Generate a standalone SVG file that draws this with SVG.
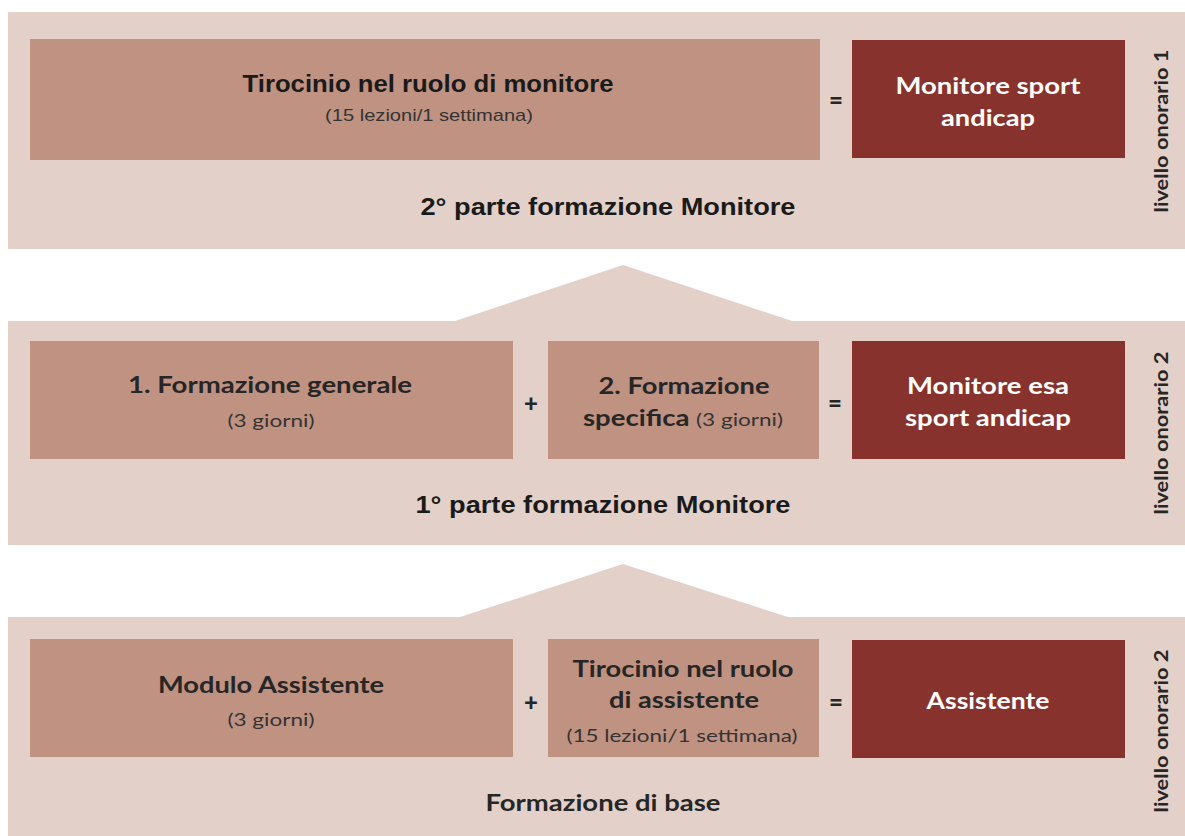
<svg xmlns="http://www.w3.org/2000/svg" width="1185" height="836" viewBox="0 0 1185 836">
<style>
.band{fill:#E3D1C9}
.light{fill:#C09282}
.dark{fill:#88322D}
.ab{font-family:"Liberation Sans",Arial,sans-serif;font-weight:bold;fill:#1a1a1a;text-anchor:middle}
.ar{font-family:"Liberation Sans",Arial,sans-serif;fill:#333;text-anchor:middle}
.cb{font-family:Lato,"Open Sans",sans-serif;font-weight:bold;fill:#262626;text-anchor:middle}
.cr{font-family:Lato,"Open Sans",sans-serif;font-weight:normal;fill:#333;text-anchor:middle}
.wb{font-family:Lato,"Open Sans",sans-serif;font-weight:bold;fill:#ffffff;text-anchor:middle}
.op{font-family:Lato,"Open Sans",sans-serif;font-weight:900;fill:#262626;text-anchor:middle;font-size:24px}
.vt{font-family:Lato,"Open Sans",sans-serif;font-weight:bold;fill:#262626;text-anchor:middle;font-size:19px}
</style>
<rect width="1185" height="836" fill="#ffffff"/>

<g id="band-top">
<rect class="band" x="8" y="12" width="1177" height="237"/>
<text class="ab" x="608" y="215" font-size="24" textLength="375" lengthAdjust="spacingAndGlyphs">2° parte formazione Monitore</text>
<text class="vt" transform="translate(1168,131) rotate(-90)" textLength="163" lengthAdjust="spacingAndGlyphs">livello onorario 1</text>
</g>
<g id="band-middle">
<polygon class="band" points="8,321 455,321 623,265 792,321 1185,321 1185,545 8,545"/>
<text class="ab" x="603" y="513" font-size="24" textLength="375" lengthAdjust="spacingAndGlyphs">1° parte formazione Monitore</text>
<text class="vt" transform="translate(1168,433) rotate(-90)" textLength="163" lengthAdjust="spacingAndGlyphs">livello onorario 2</text>
</g>
<g id="band-bottom">
<polygon class="band" points="8,617 460,617 623,564 788,617 1185,617 1185,836 8,836"/>
<text class="cb" x="603" y="811" font-size="22" textLength="235" lengthAdjust="spacingAndGlyphs">Formazione di base</text>
<text class="vt" transform="translate(1168,731) rotate(-90)" textLength="163" lengthAdjust="spacingAndGlyphs">livello onorario 2</text>
</g>

<g id="node-tirocinio-monitore">
<rect class="light" x="30" y="39" width="790" height="121"/>
<text class="ab" x="428" y="92" font-size="24" textLength="371" lengthAdjust="spacingAndGlyphs">Tirocinio nel ruolo di monitore</text>
<text class="ar" x="429" y="121" font-size="17" textLength="208" lengthAdjust="spacingAndGlyphs">(15 lezioni/1 settimana)</text>
</g>
<g id="node-monitore-sport-andicap">
<rect class="dark" x="852" y="40" width="273" height="118"/>
<text class="wb" x="988" y="94" font-size="23" textLength="185" lengthAdjust="spacingAndGlyphs">Monitore sport</text>
<text class="wb" x="988" y="126" font-size="23" textLength="94" lengthAdjust="spacingAndGlyphs">andicap</text>
</g>

<g id="node-formazione-generale">
<rect class="light" x="30" y="341" width="483" height="118"/>
<text class="cb" x="270" y="393" font-size="22" textLength="284" lengthAdjust="spacingAndGlyphs">1. Formazione generale</text>
<text class="cr" x="271" y="427" font-size="18" textLength="87" lengthAdjust="spacingAndGlyphs">(3 giorni)</text>
</g>
<g id="node-formazione-specifica">
<rect class="light" x="548" y="341" width="271" height="118"/>
<text class="cb" x="684" y="394" font-size="22" textLength="171" lengthAdjust="spacingAndGlyphs">2. Formazione</text>
<text class="cb" x="683" y="426" font-size="22" textLength="200" lengthAdjust="spacingAndGlyphs">specifica <tspan class="cr" font-size="18">(3 giorni)</tspan></text>
</g>
<g id="node-monitore-esa">
<rect class="dark" x="852" y="341" width="273" height="118"/>
<text class="wb" x="988" y="394" font-size="23" textLength="162" lengthAdjust="spacingAndGlyphs">Monitore esa</text>
<text class="wb" x="988" y="426" font-size="23" textLength="166" lengthAdjust="spacingAndGlyphs">sport andicap</text>
</g>

<g id="node-modulo-assistente">
<rect class="light" x="30" y="639" width="483" height="118"/>
<text class="cb" x="271" y="693" font-size="22" textLength="226" lengthAdjust="spacingAndGlyphs">Modulo Assistente</text>
<text class="cr" x="271" y="726" font-size="18" textLength="87" lengthAdjust="spacingAndGlyphs">(3 giorni)</text>
</g>
<g id="node-tirocinio-assistente">
<rect class="light" x="548" y="639" width="271" height="118"/>
<text class="cb" x="683" y="677" font-size="22" textLength="221" lengthAdjust="spacingAndGlyphs">Tirocinio nel ruolo</text>
<text class="cb" x="684" y="708" font-size="22" textLength="150" lengthAdjust="spacingAndGlyphs">di assistente</text>
<text class="cr" x="682" y="742" font-size="18" textLength="231" lengthAdjust="spacingAndGlyphs">(15 lezioni/1 settimana)</text>
</g>
<g id="node-assistente">
<rect class="dark" x="852" y="640" width="273" height="118"/>
<text class="wb" x="988" y="709" font-size="23" textLength="123" lengthAdjust="spacingAndGlyphs">Assistente</text>
</g>

<g id="connectors">
<text class="op" x="836" y="109">=</text>
<text class="op" x="531" y="412">+</text>
<text class="op" x="835" y="412">=</text>
<text class="op" x="531" y="711">+</text>
<text class="op" x="836" y="711">=</text>
</g>
</svg>
